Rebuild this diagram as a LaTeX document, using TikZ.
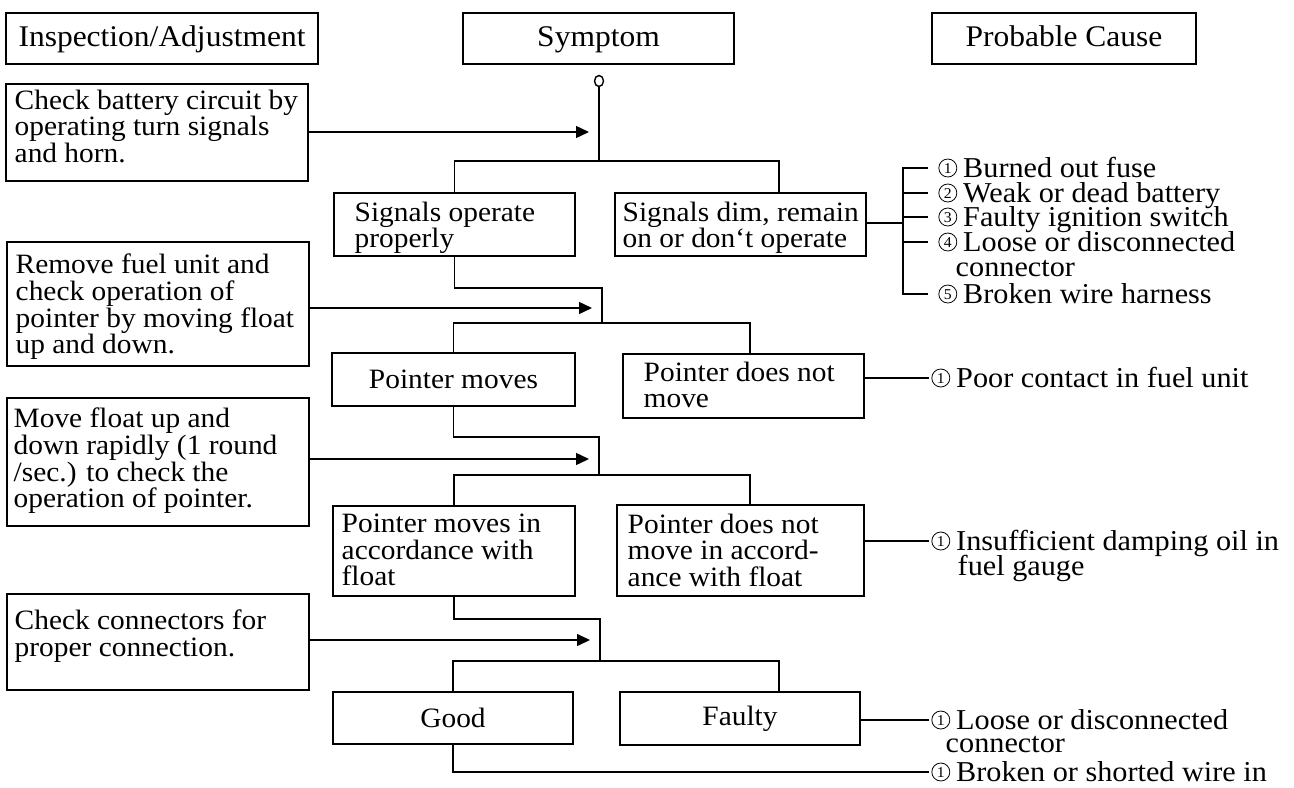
\documentclass[tikz,border=0pt]{standalone}
\usepackage{fontspec}
\setmainfont{Liberation Serif}[FakeStretch=1.05]
\usetikzlibrary{arrows.meta,fit,shapes.geometric}
% thin circled number as in the printed list
\newcommand\cnum[1]{\tikz[baseline={([yshift=-2pt]cn.base)}]
  \node[draw, circle, line width=0.4pt, inner sep=0pt, minimum size=9pt,
    text height=5pt, text depth=0pt, font=\fontsize{7.5}{7.5}\selectfont] (cn) {#1};\hspace{3pt}}

\begin{document}
\begin{tikzpicture}[x=0.5pt,y=-0.5pt,line width=0.7pt,
  box/.style={draw, inner sep=0pt, fit={#1}},
  txt/.style={inner sep=0pt, align=left, font=\fontsize{14}{13.4}\selectfont},
  hd/.style={inner sep=0pt, text height=10.5pt, text depth=3pt, font=\fontsize{15}{15}\selectfont},
  cause/.style={anchor=west, inner sep=0pt, text height=9.5pt, text depth=0.5pt, font=\fontsize{14.4}{13}\selectfont},
  tick/.style={shorten >=4pt},
  arr/.style={-{Triangle[length=6.5pt,width=6pt]}, shorten >=5pt}]
\useasboundingbox (0,0) rectangle (1294,787);

% Headings
\node[box={(6,13) (318,64)}] (hdinsp) {};
\node[hd] (hdinspt) at (hdinsp.center) {Inspection/Adjustment};
\node[box={(463,13) (734,64)}] (hdsym) {};
\node[hd] (hdsymt) at (hdsym.center) {Symptom};
\node[box={(932,13) (1196,64)}] (hdcause) {};
\node[hd] (hdcauset) at (hdcause.center) {Probable Cause};

% Inspection boxes
\node[box={(6,84) (308,181)}] (chk1) {};
\node[txt, anchor=north west] (chk1t) at (14,89) {Check battery circuit by\\operating turn signals\\and horn.};
\node[box={(7,242) (309,366)}] (chk2) {};
\node[txt, anchor=north west] (chk2t) at (15,253) {Remove fuel unit and\\check operation of\\pointer by moving float\\up and down.};
\node[box={(7,398) (309,526)}] (chk3) {};
\node[txt, anchor=north west] (chk3t) at (13,407) {Move float up and\\down rapidly (1 round\\/sec.) to check the\\operation of pointer.};
\node[box={(7,594) (309,690)}] (chk4) {};
\node[txt, anchor=north west] (chk4t) at (14,609) {Check connectors for\\proper connection.};

% Trunk points
\node[draw, ellipse, minimum width=4.5pt, minimum height=5.5pt, inner sep=0pt] (ring) at (599,81) {};
\coordinate (in1) at (599,132);
\coordinate (bar1) at (599,161);
\coordinate (drop1) at (779,161);
\coordinate (knee2) at (602,288);
\coordinate (in2) at (602,308);
\coordinate (bar2) at (602,323);
\coordinate (drop2) at (750,323);
\coordinate (knee3) at (599,437);
\coordinate (in3) at (599,459);
\coordinate (bar3) at (599,475);
\coordinate (drop3) at (750,475);
\coordinate (knee4) at (600,619);
\coordinate (in4) at (600,640);
\coordinate (bar4) at (600,661);
\coordinate (drop4) at (779,661);
\coordinate (brk1) at (903,223);

% Symptom boxes
\node[box={(334,193) (575,256)}] (sigok) {};
\node[txt, anchor=north west] (sigokt) at (354,201) {Signals operate\\properly};
\node[box={(615,193) (866,256)}] (sigbad) {};
\node[txt, anchor=north west] (sigbadt) at (622,201) {Signals dim, remain\\on or don‘t operate};
\node[box={(332,353) (575,406)}] (pmove) {};
\node[txt] (pmovet) at (pmove.center) {Pointer moves};
\node[box={(623,354) (864,418)}] (pnot) {};
\node[txt, anchor=north west] (pnott) at (643,361) {Pointer does not\\move};
\node[box={(333,506) (575,596)}] (pacc) {};
\node[txt, anchor=north west] (pacct) at (341,513) {Pointer moves in\\accordance with\\float};
\node[box={(617,505) (864,596)}] (pnacc) {};
\node[txt, anchor=north west] (pnacct) at (627,513) {Pointer does not\\move in accord-\\ance with float};
\node[box={(333,692) (573,744)}] (good) {};
\node[txt] (goodt) at (good.center) {Good};
\node[box={(620,692) (860,745)}] (faulty) {};
\node[txt] (faultyt) at (faulty.center) {Faulty};

% Probable causes
\node[cause] (c11) at (938,168) {\cnum{1}Burned out fuse};
\node[cause] (c12) at (938,193) {\cnum{2}Weak or dead battery};
\node[cause] (c13) at (938,217) {\cnum{3}Faulty ignition switch};
\node[cause] (c14) at (938,242) {\cnum{4}Loose or disconnected};
\node[cause] (c14b) at (955,267) {connector};
\node[cause] (c15) at (938,294) {\cnum{5}Broken wire harness};
\node[cause] (c21) at (931,378) {\cnum{1}Poor contact in fuel unit};
\node[cause] (c31) at (931,541) {\cnum{1}Insufficient damping oil in};
\node[cause] (c31b) at (957,566) {fuel gauge};
\node[cause] (c41) at (931,720) {\cnum{1}Loose or disconnected};
\node[cause] (c41b) at (945,743) {connector};
\node[cause] (c42) at (931,772) {\cnum{1}Broken or shorted wire in};

% Flow lines
\draw (ring) -- (bar1);
\draw (sigok.north) |- (bar1) -- (drop1) -- (drop1 |- sigbad.north);
\draw (sigok.south) |- (knee2) -- (bar2);
\draw (pmove.north) |- (bar2) -- (drop2) -- (drop2 |- pnot.north);
\draw (pmove.south) |- (knee3) -- (bar3);
\draw (pacc.north) |- (bar3) -- (drop3) -- (drop3 |- pnacc.north);
\draw (pacc.south) |- (knee4) -- (bar4);
\draw (good.north) |- (bar4) -- (drop4) -- (drop4 |- faulty.north);

% Inspection arrows
\draw[arr] (chk1.east |- in1) -- (in1);
\draw[arr] (chk2.east |- in2) -- (in2);
\draw[arr] (chk3.east |- in3) -- (in3);
\draw[arr] (chk4.east |- in4) -- (in4);

% Cause connectors
\draw (sigbad.east |- brk1) -- (brk1);
\draw[shorten <=5pt, shorten >=5pt] (c11.west) -| (brk1) |- (c15.west);
\foreach \c in {c12,c13,c14}
  \draw[tick] (brk1 |- \c.west) -- ([xshift=-1pt]\c.west);
\draw[shorten >=1pt] (pnot.east |- c21.west) -- (c21.west);
\draw[shorten >=1pt] (pnacc.east |- c31.west) -- (c31.west);
\draw[shorten >=1pt] (faulty.east |- c41.west) -- (c41.west);
\draw[shorten >=1pt] (good.south) |- (c42.west);

\end{tikzpicture}
\end{document}
